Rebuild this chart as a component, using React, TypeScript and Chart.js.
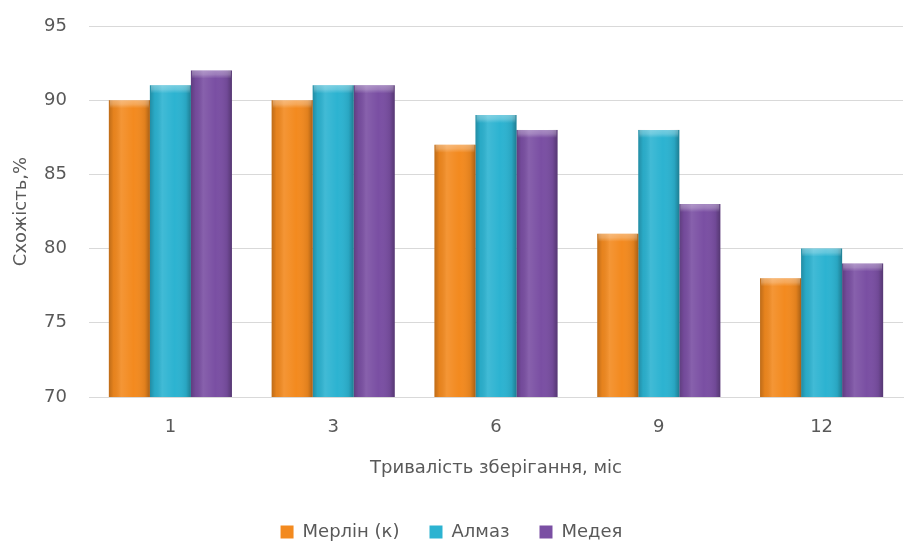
import React, { useEffect, useRef } from "react";
import { Chart, registerables } from "chart.js";

Chart.register(...registerables);

// Storage duration (months) and germination (%) per variety
const categories = ["1", "3", "6", "9", "12"];
const seriesNames = ["Мерлін (к)", "Алмаз", "Медея"];
const merlinValues = [90, 90, 87, 81, 78];
const almazValues = [91, 91, 89, 88, 80];
const medeyaValues = [92, 91, 88, 83, 79];
const seriesColors = ["#F38A1F", "#2CB3D1", "#7A4FA3"];
const yTitle = "Схожість,%";
const xTitle = "Тривалість зберігання, міс";

const FONT = "'DejaVu Sans', 'Open Sans', sans-serif";
const TEXT = "#595959";

// Adds the rounded, glossy look of each column: darker edges, lighter top cap
const barShading = {
  id: "barShading",
  afterDatasetsDraw(chart: Chart) {
    const ctx = chart.ctx;
    const area = chart.chartArea;
    chart.data.datasets.forEach((_, di) => {
      const meta = chart.getDatasetMeta(di);
      meta.data.forEach((el: any) => {
        const { x, y, width, base } = el.getProps(["x", "y", "width", "base"], true);
        const left = x - width / 2;
        const bottom = Math.min(base, area.bottom);
        const h = bottom - y;
        if (h <= 0) return;
        ctx.save();
        const g = ctx.createLinearGradient(left, 0, left + width, 0);
        g.addColorStop(0, "rgba(0,0,0,0.22)");
        g.addColorStop(0.12, "rgba(0,0,0,0.05)");
        g.addColorStop(0.3, "rgba(255,255,255,0.10)");
        g.addColorStop(0.6, "rgba(255,255,255,0.0)");
        g.addColorStop(0.88, "rgba(0,0,0,0.08)");
        g.addColorStop(1, "rgba(0,0,0,0.30)");
        ctx.fillStyle = g;
        ctx.fillRect(left, y, width, h);
        // top cap
        const capH = Math.min(8, h);
        const cg = ctx.createLinearGradient(0, y, 0, y + capH);
        cg.addColorStop(0, "rgba(255,255,255,0.35)");
        cg.addColorStop(0.5, "rgba(255,255,255,0.25)");
        cg.addColorStop(1, "rgba(255,255,255,0.0)");
        ctx.fillStyle = cg;
        ctx.fillRect(left + 1, y, width - 2, capH);
        ctx.restore();
      });
    });
  },
};

export default function App() {
  const canvasRef = useRef<HTMLCanvasElement | null>(null);

  useEffect(() => {
    document.body.style.margin = "0";
    const values = [merlinValues, almazValues, medeyaValues];
    const chart = new Chart(canvasRef.current as HTMLCanvasElement, {
      type: "bar",
      data: {
        labels: categories,
        datasets: seriesNames.map((name, i) => ({
          label: name,
          data: values[i],
          backgroundColor: seriesColors[i],
          borderWidth: 0,
          categoryPercentage: 0.756,
          barPercentage: 1.0,
        })),
      },
      plugins: [barShading],
      options: {
        animation: false,
        responsive: false,
        maintainAspectRatio: false,
        layout: { padding: { top: 26, right: 1, left: 0, bottom: -6 } },
        plugins: {
          tooltip: { enabled: false },
          legend: {
            position: "bottom",
            labels: {
              color: TEXT,
              font: { family: FONT, size: 18 },
              boxWidth: 13,
              boxHeight: 13,
              padding: 30,
            },
          },
        },
        scales: {
          x: {
            grid: { display: false, drawTicks: false },
            border: { display: true, color: "#D9D9D9", width: 1 },
            ticks: { color: TEXT, font: { family: FONT, size: 18 }, padding: 20 },
            title: {
              display: true,
              text: xTitle,
              color: TEXT,
              font: { family: FONT, size: 18 },
              padding: { top: 10, bottom: 14 },
            },
            afterFit(scale: any) {
              scale.height = 96;
            },
          },
          y: {
            min: 70,
            max: 95,
            ticks: {
              stepSize: 5,
              color: TEXT,
              font: { family: FONT, size: 18 },
              padding: 0,
            },
            grid: {
              color: "#D9D9D9",
              drawTicks: true,
              tickLength: 22,
              tickColor: "rgba(0,0,0,0)",
            },
            border: { display: false },
            title: {
              display: true,
              text: yTitle,
              color: TEXT,
              font: { family: FONT, size: 18 },
              padding: { top: 11, bottom: 0 },
            },
            afterFit(scale: any) {
              scale.width = 89;
            },
          },
        },
      },
    });
    return () => chart.destroy();
  }, []);

  return (
    <div style={{ width: 904, height: 545, position: "relative", background: "#fff" }}>
      <canvas ref={canvasRef} width={904} height={545} />
    </div>
  );
}
